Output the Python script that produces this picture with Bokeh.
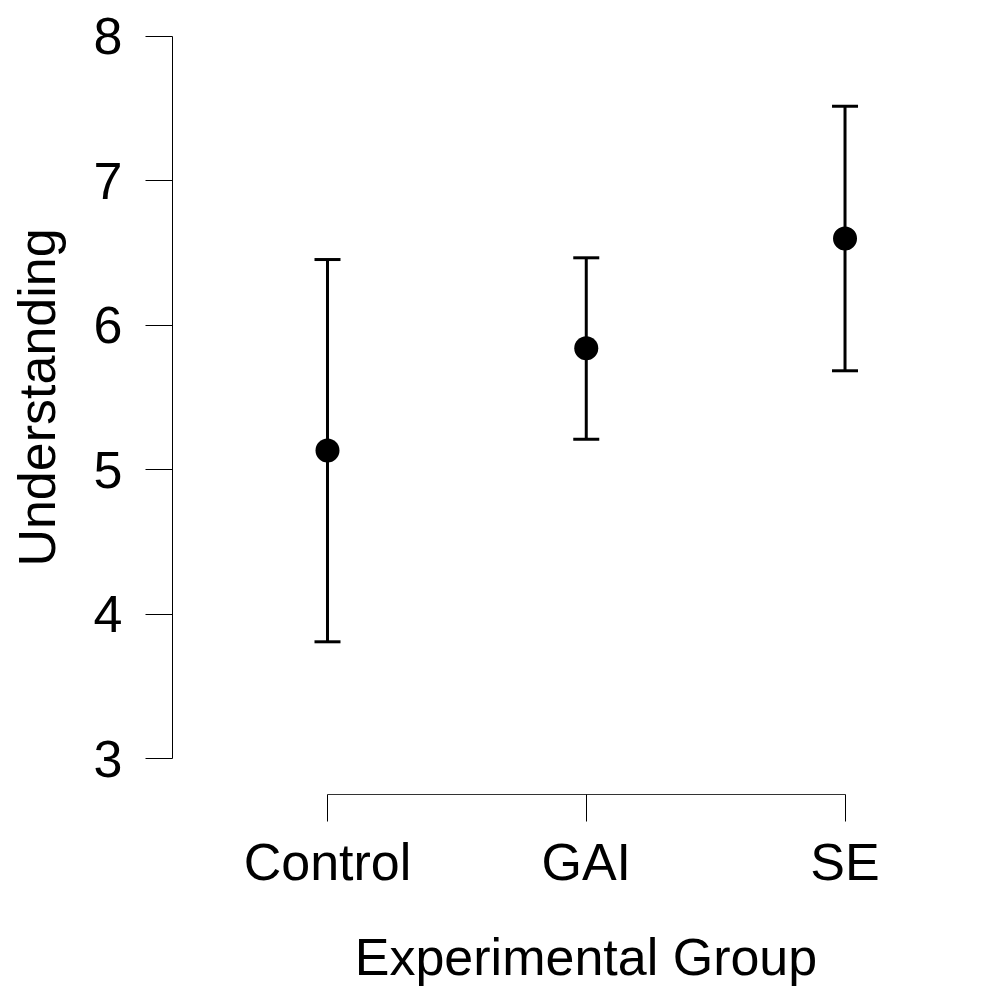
from bokeh.plotting import figure
from bokeh.models import (ColumnDataSource, Range1d, LinearAxis, FixedTicker,
                          Whisker, TeeHead)
from bokeh.embed import file_html
from bokeh.resources import INLINE

# ---- data ----
categories = ["Control", "GAI", "SE"]
means = [5.134, 5.842, 6.602]
upper = [6.456, 6.468, 7.517]
lower = [3.810, 5.212, 5.686]
y_ticks = [3, 4, 5, 6, 7, 8]
x_label = "Experimental Group"
y_label = "Understanding"

FONT = "Liberation Sans"
FS = "52px"

xpos = list(range(len(categories)))
src = ColumnDataSource(data=dict(x=xpos, mean=means, upper=upper, lower=lower))

p = figure(frame_width=827, frame_height=794,
           min_border_left=172, min_border_top=0, min_border_right=0,
           min_border_bottom=180,
           x_range=Range1d(-0.599, 2.597), y_range=Range1d(2.753, 8.249),
           output_backend="svg", toolbar_location=None, tools="",
           x_axis_type=None, y_axis_type=None)
p.outline_line_color = None
p.background_fill_color = "white"
p.border_fill_color = "white"
p.xgrid.visible = False
p.ygrid.visible = False

# y axis
ya = LinearAxis(ticker=FixedTicker(ticks=y_ticks), bounds=(min(y_ticks), max(y_ticks)))
ya.axis_label = y_label
ya.axis_label_text_font = FONT
ya.axis_label_text_font_size = FS
ya.axis_label_text_font_style = "normal"
ya.axis_label_text_color = "black"
ya.axis_label_standoff = 25
ya.major_label_text_font = FONT
ya.major_label_text_font_size = FS
ya.major_label_text_color = "black"
ya.major_label_standoff = 23
ya.major_tick_out = 27
ya.major_tick_in = 0
ya.minor_tick_out = 0
ya.minor_tick_in = 0
ya.axis_line_color = "black"
ya.axis_line_width = 1
ya.major_tick_line_color = "black"
ya.major_tick_line_width = 1
p.add_layout(ya, "left")

# x axis
xa = LinearAxis(ticker=FixedTicker(ticks=xpos), bounds=(min(xpos), max(xpos)))
xa.major_label_overrides = {i: c for i, c in zip(xpos, categories)}
xa.axis_label = x_label
xa.axis_label_text_font = FONT
xa.axis_label_text_font_size = FS
xa.axis_label_text_font_style = "normal"
xa.axis_label_text_color = "black"
xa.axis_label_standoff = 34
xa.major_label_text_font = FONT
xa.major_label_text_font_size = FS
xa.major_label_text_color = "black"
xa.major_label_standoff = 11
xa.major_tick_out = 27
xa.major_tick_in = 0
xa.minor_tick_out = 0
xa.minor_tick_in = 0
xa.axis_line_color = "#333333"
xa.axis_line_width = 1
xa.major_tick_line_color = "black"
xa.major_tick_line_width = 1
p.add_layout(xa, "below")

# error bars
w = Whisker(base="x", upper="upper", lower="lower", source=src,
            line_color="black", line_width=3,
            upper_head=TeeHead(size=26, line_width=3, line_color="black"),
            lower_head=TeeHead(size=26, line_width=3, line_color="black"))
p.add_layout(w)

p.scatter("x", "mean", source=src, size=24, fill_color="black",
          line_color="black", line_width=0)

open("out.html", "w").write(file_html(p, INLINE))
